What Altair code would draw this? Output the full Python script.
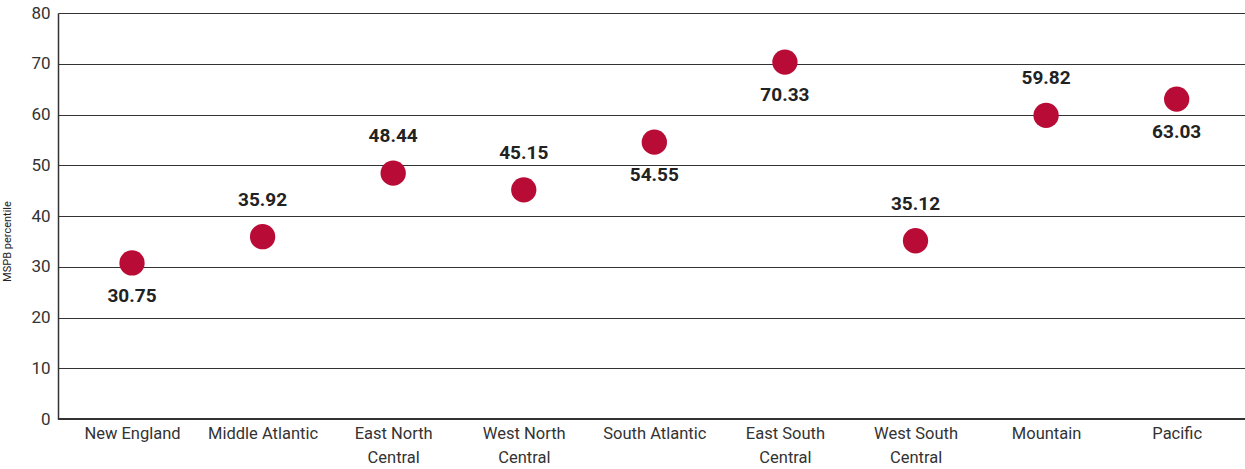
import altair as alt
import pandas as pd

regions = ["New England", "Middle Atlantic", "East North Central", "West North Central",
           "South Atlantic", "East South Central", "West South Central", "Mountain", "Pacific"]
mspb = [30.75, 35.92, 48.44, 45.15, 54.55, 70.33, 35.12, 59.82, 63.03]
label_side = ["below", "above", "above", "above", "below", "below", "above", "above", "below"]

df = pd.DataFrame({"region": regions, "value": mspb, "side": label_side})
df["label"] = df["value"].map(lambda v: f"{v:.2f}")

FONT = "Roboto"

x = alt.X("region:N", sort=regions, title=None,
          scale=alt.Scale(type="point", padding=0.545, align=0.52),
          axis=alt.Axis(labelAngle=0, labelFontSize=16.5, labelColor="#333333", labelFont=FONT,
                        ticks=False, domain=False, labelPadding=6, labelLineHeight=24,
                        labelExpr="indexof(datum.value, ' Central') > 0 ? [replace(datum.value, ' Central', ''), 'Central'] : datum.value"))
y = alt.Y("value:Q", title="MSPB percentile",
          scale=alt.Scale(domain=[0, 80], nice=False),
          axis=alt.Axis(values=list(range(0, 81, 10)), ticks=False, domain=True,
                        domainColor="#333333", domainWidth=1.5,
                        gridColor="#333333", gridWidth=1.2,
                        labelFontSize=17, labelColor="#333333", labelFont=FONT, labelPadding=8,
                        titleFontSize=11, titleFont=FONT, titleFontWeight="normal", titleColor="#222222",
                        titleX=-46, titleY=228))

base = alt.Chart(df).encode(x=x, y=y)

points = base.mark_circle(size=640, color="#b80c36", opacity=1)

above = base.transform_filter(alt.datum.side == "above").mark_text(
    dy=-37, fontSize=19, fontWeight="bold", color="#222222", font=FONT, baseline="middle"
).encode(text="label:N")
below = base.transform_filter(alt.datum.side == "below").mark_text(
    dy=33, fontSize=19, fontWeight="bold", color="#222222", font=FONT, baseline="middle"
).encode(text="label:N")

# bottom axis line
bottom = alt.Chart(df).mark_rule(color="#333333", strokeWidth=1.5).encode(
    y=alt.datum(0), x=alt.value(0), x2=alt.value(1187))

chart = alt.layer(points, above, below, bottom).properties(
    width=1187, height=406,
    autosize=alt.AutoSizeParams(type="none"),
    padding={"left": 58, "top": 13, "right": 0, "bottom": 50},
).configure_view(stroke=None).configure(background="white")

chart.save("out.html", embed_options={"renderer": "svg", "actions": False})
